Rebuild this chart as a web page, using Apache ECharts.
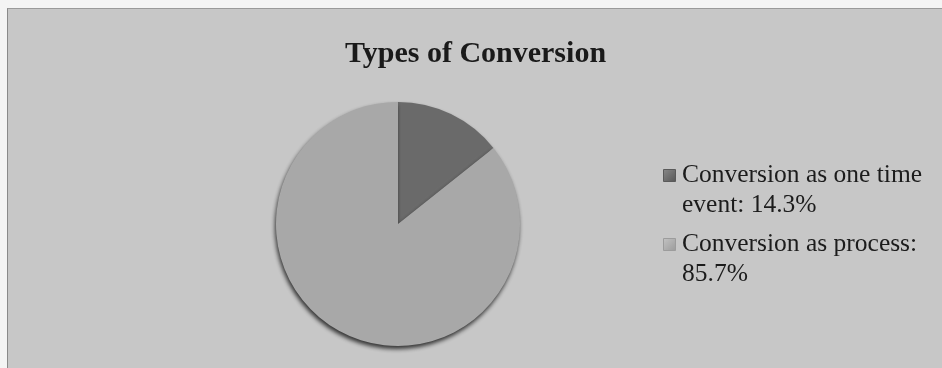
<!DOCTYPE html>
<html>
<head>
<meta charset="utf-8">
<title>Types of Conversion</title>
<script src="https://cdn.jsdelivr.net/npm/echarts@6/dist/echarts.min.js"></script>
<style>
  html, body { margin: 0; padding: 0; background: #f4f4f4; }
  #chart { position: absolute; left: 7px; top: 8px; width: 935px; height: 360px;
           background: #c7c7c7; border-left: 1px solid #8a8a8a; border-top: 1px solid #9a9a9a; }
</style>
</head>
<body>
<div id="chart"></div>
<script>
// Share of each conversion type, in percent
const categories = ['Conversion as one time event', 'Conversion as process'];
const shares = [14.3, 85.7];
// Legend lines as they wrap beside the pie
const legendLines = [
  ['Conversion as one time', 'event: 14.3%'],
  ['Conversion as process:', '85.7%']
];
const sliceColors = ['#6a6a6a', '#a8a8a8'];

const chart = echarts.init(document.getElementById('chart'), null, { renderer: 'canvas' });

// Legend drawn as graphic groups so the swatch sits beside the first line
const legendGraphics = [];
let itemTop = 151;
legendLines.forEach((lines, i) => {
  legendGraphics.push({
    type: 'rect',
    left: 655, top: itemTop + 9,
    shape: { width: 12, height: 12 },
    style: {
      fill: new echarts.graphic.LinearGradient(0, 0, 1, 1, [
        { offset: 0, color: i === 0 ? '#8a8a8a' : '#c4c4c4' },
        { offset: 1, color: i === 0 ? '#555555' : '#9a9a9a' }
      ]),
      stroke: i === 0 ? '#5a5a5a' : '#9c9c9c', lineWidth: 1
    }
  });
  legendGraphics.push({
    type: 'text',
    left: 674, top: itemTop,
    style: {
      text: lines.join('\n'),
      font: '25.5px "Liberation Serif", "Times New Roman", serif',
      lineHeight: 30,
      fill: '#1c1c1c'
    }
  });
  itemTop += 69;
});

chart.setOption({
  backgroundColor: 'transparent',
  title: {
    text: 'Types of Conversion',
    left: 'center',
    top: 25,
    textStyle: {
      fontFamily: '"Liberation Serif", "Times New Roman", serif',
      fontWeight: 'bold',
      fontSize: 30,
      color: '#1a1a1a'
    }
  },
  graphic: legendGraphics,
  series: [{
    type: 'pie',
    center: [390, 215],
    radius: 122,
    startAngle: 90,
    clockwise: true,
    label: { show: false },
    labelLine: { show: false },
    emphasis: { disabled: true },
    itemStyle: {
      shadowColor: 'rgba(25,25,25,0.85)',
      shadowBlur: 4,
      shadowOffsetX: -1,
      shadowOffsetY: 3
    },
    data: categories.map((name, i) => ({
      name: name,
      value: shares[i],
      itemStyle: { color: sliceColors[i] }
    }))
  }]
});
</script>
</body>
</html>
